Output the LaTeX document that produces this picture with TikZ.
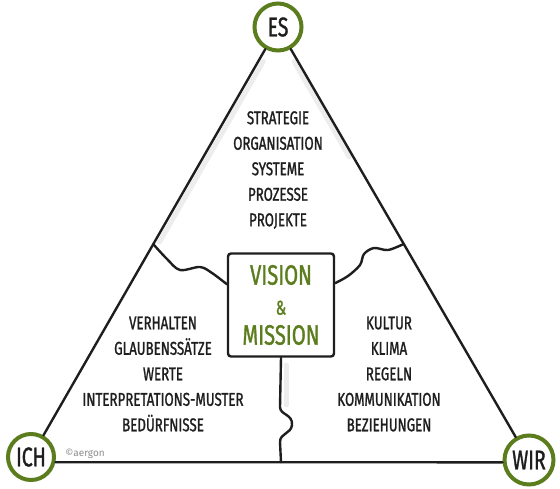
\documentclass[tikz,border=0pt]{standalone}
\usepackage{fontspec}
\usepackage{tikz}
\usetikzlibrary{calc}
\newfontfamily\hand{Fira Sans}[FakeStretch=0.72, FakeBold=1.2]
\newfontfamily\plain{Fira Sans}
\definecolor{leaf}{RGB}{92,125,30}
\definecolor{ink}{RGB}{30,30,30}
\tikzset{
  corner/.style={circle, draw=leaf, line width=4pt, fill=white, inner sep=0pt,
    text=ink, font=\hand\fontsize{27}{27}\selectfont},
  edge/.style={draw=ink, line width=2.4pt, line cap=round, line join=round},
  shade/.style={draw=black!7, line width=5pt, line cap=round},
  visionbox/.style={draw=ink, line width=2.4pt, rounded corners=3pt, fill=white,
    minimum width=106pt, minimum height=103pt, align=center, text=leaf,
    font=\hand\fontsize{28}{30}\selectfont},
  list/.style={align=center, text=ink, font=\hand\fontsize{18.5}{25.5}\selectfont}
}

\begin{document}
\begin{tikzpicture}[x=1pt, y=-1pt]
    \useasboundingbox (0,0) rectangle (560,488);

    % Corners of the triangle
    \node[corner, minimum size=47pt] (es) at (278,27) {ES};
    \node[corner, minimum size=46pt] (ich) at (31,457) {ICH};
    \node[corner, minimum size=49pt] (wir) at (529,460) {WIR};

    % Faint sketch shadows
    \draw[shade] ($(es)!0.08!(ich)+(5,0)$) -- ($(es)!0.5!(ich)+(5,0)$);
    \draw[shade] ($(es)!0.08!(wir)+(-4,0)$) -- ($(es)!0.3!(wir)+(-4,0)$);
    \draw[shade] (286,365) -- (286,405);

    % Triangle sides
    \draw[edge] (es) -- (ich);
    \draw[edge] (es) -- (wir);
    \draw[edge] (ich.-12) -- (wir.185);

    % Vision & Mission in the middle
    \node[visionbox] (vm) at (281,305) {VISION\\{\fontsize{20}{30}\selectfont\&}\\MISSION};

    % Puzzle lines
    \coordinate (pl) at ($(es)!0.505!(ich)$);
    \coordinate (pr) at ($(es)!0.501!(wir)$);
    \draw[edge] plot[smooth, tension=0.55] coordinates
        {(pl) (167,259) (180,270) (200,267) (212,273) (vm.159)};
    \draw[edge] plot[smooth, tension=0.55] coordinates
        {(vm.22) (348,276) (360,265) (364,254) (374,248) (388,250) (pr)};
    \draw[edge] (vm.south) -- (280,407)
        .. controls (280,415) and (293,414) .. (292,425)
        .. controls (291,434) and (280,433) .. (280,442)
        -- (vm.south |- ich.-12);

    % The three fields
    \node[list] (es-list) at (278,170) {STRATEGIE\\ORGANISATION\\SYSTEME\\PROZESSE\\PROJEKTE};
    \node[list] (ich-list) at (163,374) {VERHALTEN\\GLAUBENSSÄTZE\\WERTE\\INTERPRETATIONS-MUSTER\\BEDÜRFNISSE};
    \node[list] (wir-list) at (389,374) {KULTUR\\KLIMA\\REGELN\\KOMMUNIKATION\\BEZIEHUNGEN};

    \node[text=black!45, font=\plain\fontsize{10}{10}\selectfont] (copy) at (85,454) {©aergon};
\end{tikzpicture}
\end{document}
